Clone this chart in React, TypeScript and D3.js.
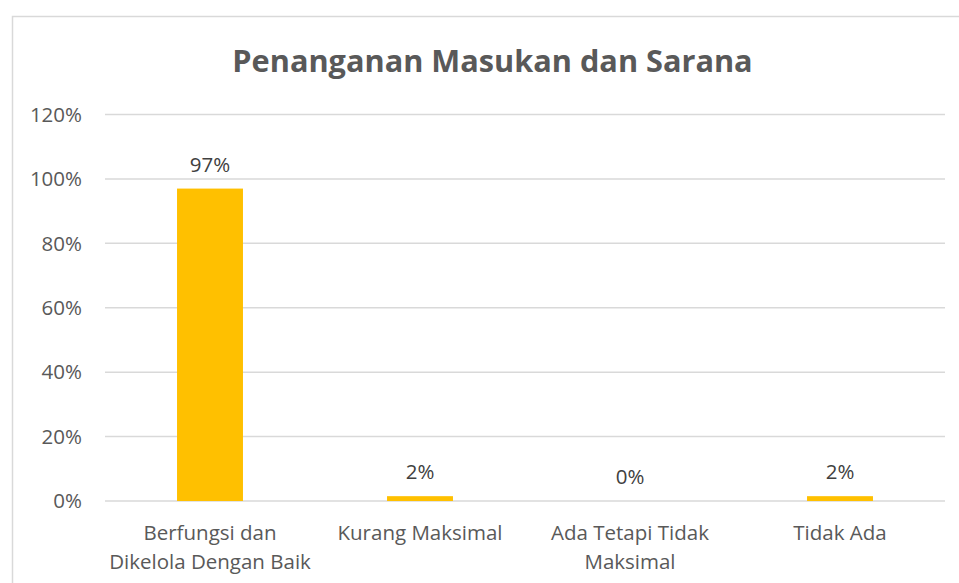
import React, { useEffect, useRef } from "react";
import * as d3 from "d3";

const title = "Penanganan Masukan dan Sarana";
const categories = [
  "Berfungsi dan Dikelola Dengan Baik",
  "Kurang Maksimal",
  "Ada Tetapi Tidak Maksimal",
  "Tidak Ada",
];
const values = [0.97, 0.015, 0, 0.015];
const yTicks = [0, 0.2, 0.4, 0.6, 0.8, 1.0, 1.2];

const W = 959;
const H = 583;
const FONT = "'Open Sans', 'Noto Sans', sans-serif";

export default function App() {
  const ref = useRef<SVGSVGElement | null>(null);

  useEffect(() => {
    const svg = d3.select(ref.current);
    svg.selectAll("*").remove();

    const left = 105, right = 945, top = 114.5, bottom = 501;
    const fs = 20.5;

    svg.append("rect").attr("x", 0).attr("y", 0).attr("width", W).attr("height", H).attr("fill", "#fff");
    svg.append("rect")
      .attr("x", 12.5).attr("y", 16.5).attr("width", 980).attr("height", 620)
      .attr("fill", "none").attr("stroke", "#d9d9d9").attr("stroke-width", 1.5);

    const x = d3.scaleBand<string>().domain(categories).range([left, right]).paddingInner(0.686).paddingOuter(0.343);
    const y = d3.scaleLinear().domain([0, 1.2]).range([bottom, top]);
    const fmt = d3.format(".0%");

    svg.append("text")
      .attr("x", 492.5).attr("y", 72)
      .attr("text-anchor", "middle")
      .attr("font-family", FONT).attr("font-weight", "bold").attr("font-size", 30.7)
      .attr("fill", "#595959")
      .text(title);

    svg.append("g").selectAll("line").data(yTicks).join("line")
      .attr("x1", left).attr("x2", right)
      .attr("y1", (d) => y(d)).attr("y2", (d) => y(d))
      .attr("stroke", "#d9d9d9").attr("stroke-width", 1.5);

    svg.append("g").selectAll("text").data(yTicks).join("text")
      .attr("x", 82).attr("y", (d) => y(d)).attr("dy", "0.35em")
      .attr("text-anchor", "end")
      .attr("font-family", FONT).attr("font-size", fs)
      .attr("fill", "#595959")
      .text((d) => fmt(d));

    svg.append("g").selectAll("rect").data(values).join("rect")
      .attr("x", (_, i) => x(categories[i])!)
      .attr("width", x.bandwidth())
      .attr("y", (d) => y(d))
      .attr("height", (d) => bottom - y(d))
      .attr("fill", "#FFC000");

    svg.append("g").selectAll("text").data(values).join("text")
      .attr("x", (_, i) => x(categories[i])! + x.bandwidth() / 2)
      .attr("y", (d) => y(d) - 17)
      .attr("text-anchor", "middle")
      .attr("font-family", FONT).attr("font-size", fs)
      .attr("fill", "#404040")
      .text((d) => fmt(d));

    const maxW = x.step();
    categories.forEach((c) => {
      const cx = x(c)! + x.bandwidth() / 2;
      const t = svg.append("text")
        .attr("text-anchor", "middle")
        .attr("font-family", FONT).attr("font-size", fs)
        .attr("fill", "#595959");
      const words = c.split(" ");
      const lines: string[] = [];
      let cur = "";
      const probe = t.append("tspan");
      words.forEach((w) => {
        const cand = cur ? cur + " " + w : w;
        probe.text(cand);
        const len = (probe.node() as SVGTSpanElement).getComputedTextLength();
        if (len > maxW && cur) {
          lines.push(cur);
          cur = w;
        } else cur = cand;
      });
      if (cur) lines.push(cur);
      probe.remove();
      lines.forEach((ln, i) => {
        t.append("tspan").attr("x", cx).attr("y", 540 + i * 29).text(ln);
      });
    });
  }, []);

  return (
    <svg
      ref={ref}
      width={W}
      height={H}
      style={{ position: "absolute", left: 0, top: 0, display: "block" }}
    />
  );
}
